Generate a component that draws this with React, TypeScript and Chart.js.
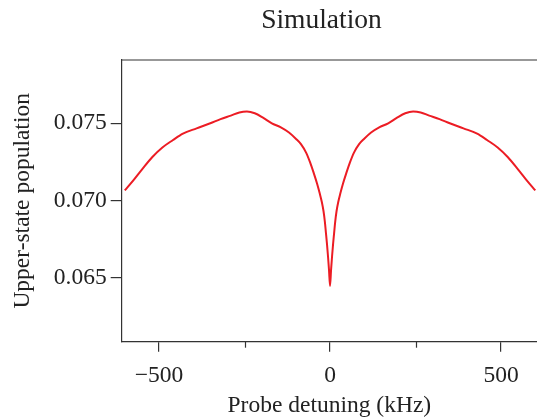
import React, { useEffect, useRef } from "react";
import { Chart, registerables } from "chart.js";

Chart.register(...registerables);

// Probe detuning (kHz)
const DETUNING = [
  -600, -575, -550, -520, -490, -460, -430, -390, -350, -320, -290, -265, -243, -220, -195, -170, -145, -120, -100,
  -85, -70, -58, -48, -38, -30, -24, -19, -15, -12, -9, -6, -3, 0,
  3, 6, 9, 12, 15, 19, 24, 30, 38, 48, 58, 70, 85, 100, 120, 145, 170, 195, 220, 243, 265, 290, 320, 350, 390,
  430, 460, 490, 520, 550, 575, 600,
];

// Upper-state population
const POPULATION = [
  0.07065, 0.0713, 0.072, 0.0728, 0.07343, 0.0739, 0.07433, 0.07467, 0.075, 0.07527, 0.0755, 0.0757, 0.07576,
  0.07565, 0.07535, 0.075, 0.07475, 0.0744, 0.074, 0.07365, 0.0731, 0.07245, 0.0718, 0.0711, 0.07045, 0.0699,
  0.0693, 0.0686, 0.0679, 0.0672, 0.0664, 0.0655, 0.06446,
  0.0655, 0.0664, 0.0672, 0.0679, 0.0686, 0.0693, 0.0699, 0.07045, 0.0711, 0.0718, 0.07245, 0.0731, 0.07365,
  0.074, 0.0744, 0.07475, 0.075, 0.07535, 0.07565, 0.07576, 0.0757, 0.0755, 0.07527, 0.075, 0.07467, 0.07433,
  0.0739, 0.07343, 0.0728, 0.072, 0.0713, 0.07065,
];

const X_MAJOR_TICKS = [-500, 0, 500];
const X_MINOR_TICKS = [-250, 250];
const Y_TICKS = [0.065, 0.07, 0.075];
const X_RANGE = [-609, 605];
const Y_RANGE = [0.06085, 0.0791];

const TITLE = "Simulation";
const X_TITLE = "Probe detuning (kHz)";
const Y_TITLE = "Upper-state population";

const FONT_FAMILY = "'Liberation Serif', 'Times New Roman', serif";
const AXIS_COLOR = "#333333";
const TEXT_COLOR = "#222222";

const framePlugin = {
  id: "frame",
  afterDraw(chart: any) {
    const { ctx, chartArea, scales } = chart;
    ctx.save();
    ctx.strokeStyle = AXIS_COLOR;
    ctx.lineWidth = 1.2;
    // top border
    ctx.beginPath();
    ctx.moveTo(chartArea.left, chartArea.top);
    ctx.lineTo(chartArea.right, chartArea.top);
    ctx.stroke();
    // minor x ticks
    for (const v of X_MINOR_TICKS) {
      const px = Math.round(scales.x.getPixelForValue(v)) + 0.5;
      ctx.beginPath();
      ctx.moveTo(px, chartArea.bottom);
      ctx.lineTo(px, chartArea.bottom + 6);
      ctx.stroke();
    }
    // title
    ctx.fillStyle = TEXT_COLOR;
    ctx.font = `27.5px ${FONT_FAMILY}`;
    ctx.textAlign = "center";
    ctx.textBaseline = "middle";
    ctx.fillText(TITLE, 321.5, 21);
    ctx.restore();
  },
};

export default function App() {
  const canvasRef = useRef<HTMLCanvasElement | null>(null);

  useEffect(() => {
    if (!canvasRef.current) return;
    const points = DETUNING.map((x, i) => ({ x, y: POPULATION[i] }));
    const chart = new Chart(canvasRef.current, {
      type: "line",
      data: {
        datasets: [
          {
            data: points,
            borderColor: "#ec1c24",
            borderWidth: 2,
            pointRadius: 0,
            cubicInterpolationMode: "monotone",
            fill: false,
          },
        ],
      },
      options: {
        animation: false,
        responsive: false,
        devicePixelRatio: 1,
        layout: { padding: { top: 60, right: 0, left: 0, bottom: 0 } },
        plugins: {
          legend: { display: false },
          title: { display: false },
          tooltip: { enabled: false },
        },
        scales: {
          x: {
            type: "linear",
            min: X_RANGE[0],
            max: X_RANGE[1],
            afterBuildTicks: (scale: any) => {
              scale.ticks = X_MAJOR_TICKS.map((v) => ({ value: v }));
            },
            afterFit: (scale: any) => {
              scale.height = 78.3;
            },
            grid: {
              display: true,
              drawOnChartArea: false,
              drawTicks: true,
              tickLength: 10,
              color: AXIS_COLOR,
              lineWidth: 1.2,
            },
            border: { display: true, color: AXIS_COLOR, width: 1.2 },
            ticks: {
              padding: 10,
              color: TEXT_COLOR,
              font: { family: FONT_FAMILY, size: 23.5 },
              maxRotation: 0,
              callback: (v: any) => String(v).replace("-", "\u2212"),
            },
            title: {
              display: true,
              text: X_TITLE,
              color: TEXT_COLOR,
              font: { family: FONT_FAMILY, size: 23.5 },
              padding: { top: 0, bottom: 0 },
            },
          },
          y: {
            type: "linear",
            min: Y_RANGE[0],
            max: Y_RANGE[1],
            afterBuildTicks: (scale: any) => {
              scale.ticks = Y_TICKS.map((v) => ({ value: v }));
            },
            afterFit: (scale: any) => {
              scale.width = 121.7;
            },
            grid: {
              display: true,
              drawOnChartArea: false,
              drawTicks: true,
              tickLength: 11,
              color: AXIS_COLOR,
              lineWidth: 1.2,
            },
            border: { display: true, color: AXIS_COLOR, width: 1.2 },
            ticks: {
              padding: 4,
              color: TEXT_COLOR,
              font: { family: FONT_FAMILY, size: 23.5 },
              callback: (v: any) => Number(v).toFixed(3),
            },
            title: {
              display: true,
              text: Y_TITLE,
              color: TEXT_COLOR,
              font: { family: FONT_FAMILY, size: 23.5 },
              padding: { top: 9, bottom: 0 },
            },
          },
        },
      },
      plugins: [framePlugin],
    });
    return () => chart.destroy();
  }, []);

  return (
    <div style={{ position: "fixed", left: 0, top: 0, width: 537, height: 420, background: "#ffffff" }}>
      <canvas ref={canvasRef} width={537} height={420} style={{ display: "block" }} />
    </div>
  );
}
